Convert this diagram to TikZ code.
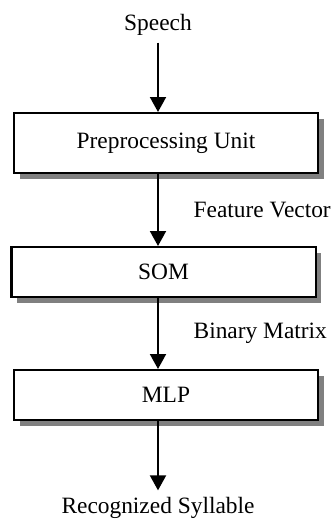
\documentclass[tikz,border=0pt]{standalone}
\usepackage{fontspec}
\setmainfont{Liberation Serif}
\usepackage{tikz}
\usetikzlibrary{arrows.meta, positioning, shadows}

\begin{document}
\begin{tikzpicture}[auto, >={Triangle[length=7.5pt, width=8pt]}, line width=1pt,
    font=\fontsize{11.7}{14}\selectfont]
        % Estilos para los bloques y las etiquetas
        \tikzstyle{block} = [draw, rectangle, fill=white, minimum width=152pt, minimum height=25pt,
            drop shadow={shadow xshift=2.75pt, shadow yshift=-3pt, fill=black!50, opacity=1}]
        \tikzstyle{label} = [inner sep=3pt]

        \useasboundingbox (0,0) rectangle (167pt,-260.5pt);

        % Nodes
        \node [label] at (79pt,-12.5pt) (speech) {Speech};
        \node [block, minimum height=30pt, on grid, below right=59pt and 4pt of speech] (pre) {Preprocessing Unit};
        \node [block, on grid, below left=64.5pt and 1.25pt of pre] (som) {SOM};
        \node [block, on grid, below right=61.5pt and 1.25pt of som] (mlp) {MLP};
        \node [label, on grid, below left=56.5pt and 4pt of mlp] (output) {Recognized Syllable};

        % Lines
        \draw [->] (speech) -- (pre.north -| speech);
        \draw [->] (pre.south -| speech) -- node [right, xshift=14pt] {Feature Vector} (som.north -| speech);
        \draw [->] (som.south -| speech) -- node [right, xshift=14pt] {Binary Matrix} (mlp.north -| speech);
        \draw [->] (mlp.south -| speech) -- (output);

\end{tikzpicture}
\end{document}
